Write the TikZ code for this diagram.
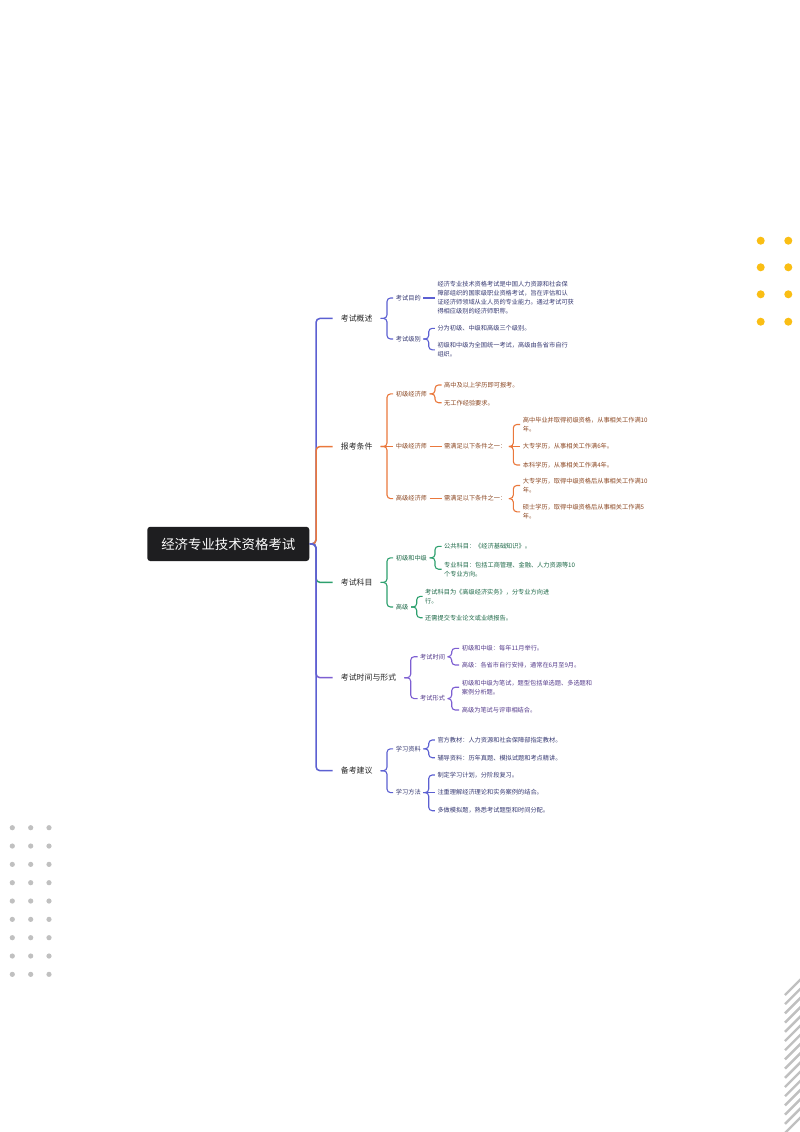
\documentclass[tikz,border=0pt]{standalone}
\usepackage{fontspec}
\newfontfamily\cjk{Noto Sans CJK SC}
\definecolor{cB}{RGB}{92,96,210}
\definecolor{cO}{RGB}{234,120,60}
\definecolor{cG}{RGB}{45,160,110}
\definecolor{cP}{RGB}{125,95,210}
\definecolor{tB}{RGB}{55,58,115}
\definecolor{tO}{RGB}{140,72,35}
\definecolor{tG}{RGB}{30,105,72}
\definecolor{tP}{RGB}{85,60,140}
\definecolor{maintext}{RGB}{40,40,40}
\definecolor{rootc}{RGB}{30,30,32}
\definecolor{dotY}{RGB}{250,190,20}
\definecolor{dotG}{RGB}{192,192,192}
\begin{document}
\begin{tikzpicture}[x=1pt,y=-1pt,
  rootbox/.style={fill=rootc, rounded corners=3pt, minimum width=162pt, minimum height=34.3pt, inner sep=0pt, text=white, font=\cjk\fontsize{13.4}{16}\selectfont},
  mainlbl/.style={anchor=west, inner xsep=8pt, inner ysep=0pt, text=maintext, font=\cjk\fontsize{7.9}{10}\selectfont},
  leaf/.style={anchor=west, inner xsep=2.5pt, inner ysep=0pt, align=left, font=\cjk\fontsize{6.2}{9}\selectfont},
  trunk/.style={line width=1.5pt, rounded corners=4pt},
  brk/.style={line width=1.1pt, rounded corners=3.5pt},
  ydot/.style={fill=dotY, draw=none},
  gdot/.style={fill=dotG, draw=none},
  stripe/.style={draw=dotG, line width=2.4pt}
]
\useasboundingbox (0,0) rectangle (800,1132);
\fill[white] (0,0) rectangle (800,1132);

% decorations
\foreach \yy in {240.7,267.3,294.3,321.7} {
  \fill[ydot] (760.7,\yy) circle (4);
  \fill[ydot] (788.3,\yy) circle (4);
}
\foreach \k in {0,...,8} {
  \foreach \xx in {12.3,30.7,49} {
    \fill[gdot] (\xx,827.7+18.33*\k) circle (2.6);
  }
}
\begin{scope}
\clip (760,960) rectangle (800,1132);
\foreach \k in {0,...,15} {
  \draw[stripe] (785,995+9.2*\k) -- (802,978+9.2*\k);
}
\end{scope}

% root
\node[rootbox] (root) at (228.3,543.9) {经济专业技术资格考试};

% main labels
\node[mainlbl] (b1) at (332.7,318.4) {考试概述};
\node[mainlbl] (b2) at (332.7,446.5) {报考条件};
\node[mainlbl] (b3) at (332.7,582.4) {考试科目};
\node[mainlbl] (b4) at (332.7,677.7) {考试时间与形式};
\node[mainlbl] (b5) at (332.7,770.7) {备考建议};

% branch 1
\node[leaf,text=tB] (b1a) at (393.2,298) {考试目的};
\node[leaf,text=tB] (b1a1) at (434.8,298) {经济专业技术资格考试是中国人力资源和社会保\\障部组织的国家级职业资格考试，旨在评估和认\\证经济师领域从业人员的专业能力。通过考试可获\\得相应级别的经济师职称。};
\node[leaf,text=tB] (b1b) at (393.2,339) {考试级别};
\node[leaf,text=tB] (b1b1) at (434.8,328.3) {分为初级、中级和高级三个级别。};
\node[leaf,text=tB] (b1b2) at (434.8,349.8) {初级和中级为全国统一考试，高级由各省市自行\\组织。};

% branch 2
\node[leaf,text=tO] (b2a) at (393.2,393.9) {初级经济师};
\node[leaf,text=tO] (b2a1) at (441.5,385) {高中及以上学历即可报考。};
\node[leaf,text=tO] (b2a2) at (441.5,402.7) {无工作经验要求。};
\node[leaf,text=tO] (b2b) at (393.2,446.5) {中级经济师};
\node[leaf,text=tO] (b2b0) at (441.5,446.5) {需满足以下条件之一：};
\node[leaf,text=tO] (b2b1) at (520.2,424.5) {高中毕业并取得初级资格，从事相关工作满10\\年。};
\node[leaf,text=tO] (b2b2) at (520.2,446.5) {大专学历，从事相关工作满6年。};
\node[leaf,text=tO] (b2b3) at (520.2,465) {本科学历，从事相关工作满4年。};
\node[leaf,text=tO] (b2c) at (393.2,498.6) {高级经济师};
\node[leaf,text=tO] (b2c0) at (441.5,498.6) {需满足以下条件之一：};
\node[leaf,text=tO] (b2c1) at (520.2,485.5) {大专学历，取得中级资格后从事相关工作满10\\年。};
\node[leaf,text=tO] (b2c2) at (520.2,511.8) {硕士学历，取得中级资格后从事相关工作满5\\年。};

% branch 3
\node[leaf,text=tG] (b3a) at (393.2,557.8) {初级和中级};
\node[leaf,text=tG] (b3a1) at (441.5,546.3) {公共科目：《经济基础知识》。};
\node[leaf,text=tG] (b3a2) at (441.5,569.2) {专业科目：包括工商管理、金融、人力资源等10\\个专业方向。};
\node[leaf,text=tG] (b3b) at (393.2,607) {高级};
\node[leaf,text=tG] (b3b1) at (422.5,596.4) {考试科目为《高级经济实务》，分专业方向进\\行。};
\node[leaf,text=tG] (b3b2) at (422.5,617.7) {还需提交专业论文或业绩报告。};

% branch 4
\node[leaf,text=tP] (b4a) at (417.5,656.7) {考试时间};
\node[leaf,text=tP] (b4a1) at (459.2,648.3) {初级和中级：每年11月举行。};
\node[leaf,text=tP] (b4a2) at (459.2,665) {高级：各省市自行安排，通常在6月至9月。};
\node[leaf,text=tP] (b4b) at (417.5,698.6) {考试形式};
\node[leaf,text=tP] (b4b1) at (459.2,687.2) {初级和中级为笔试，题型包括单选题、多选题和\\案例分析题。};
\node[leaf,text=tP] (b4b2) at (459.2,710) {高级为笔试与评审相结合。};

% branch 5
\node[leaf,text=tB] (b5a) at (393.2,748.8) {学习资料};
\node[leaf,text=tB] (b5a1) at (434.8,740) {官方教材：人力资源和社会保障部指定教材。};
\node[leaf,text=tB] (b5a2) at (434.8,757.7) {辅导资料：历年真题、模拟试题和考点精讲。};
\node[leaf,text=tB] (b5b) at (393.2,792.6) {学习方法};
\node[leaf,text=tB] (b5b1) at (434.8,775) {制定学习计划，分阶段复习。};
\node[leaf,text=tB] (b5b2) at (434.8,792.6) {注重理解经济理论和实务案例的结合。};
\node[leaf,text=tB] (b5b3) at (434.8,810.7) {多做模拟题，熟悉考试题型和时间分配。};

% trunk connectors
\draw[trunk,cB] (root.east) -- (316,543.9) |- (b1.west);
\draw[trunk,cO] (root.east) -- (316,543.9) |- (b2.west);
\draw[trunk,cG] (root.east) -- (316,543.9) |- (b3.west);
\draw[trunk,cP] (root.east) -- (316,543.9) |- (b4.west);
\draw[trunk,cB] (root.east) -- (316,543.9) |- (b5.west);

% branch 1 connectors
\draw[brk,cB] (b1.east) -- (387,318.4) |- (b1a.west);
\draw[brk,cB] (b1.east) -- (387,318.4) |- (b1b.west);
\draw[brk,cB] (b1a.east) -- (b1a1.west);
\draw[brk,cB] (b1b.east) -- (428.7,339) |- (b1b1.west);
\draw[brk,cB] (b1b.east) -- (428.7,339) |- (b1b2.west);

% branch 2 connectors
\draw[brk,cO] (b2.east) -- (387,446.5) |- (b2a.west);
\draw[brk,cO] (b2.east) -- (b2b.west);
\draw[brk,cO] (b2.east) -- (387,446.5) |- (b2c.west);
\draw[brk,cO] (b2a.east) -- (435,393.9) |- (b2a1.west);
\draw[brk,cO] (b2a.east) -- (435,393.9) |- (b2a2.west);
\draw[brk,cO] (b2b.east) -- (b2b0.west);
\draw[brk,cO] (b2c.east) -- (b2c0.west);
\draw[brk,cO] (b2b0.east) -- (513.3,446.5) |- (b2b1.west);
\draw[brk,cO] (b2b0.east) -- (b2b2.west);
\draw[brk,cO] (b2b0.east) -- (513.3,446.5) |- (b2b3.west);
\draw[brk,cO] (b2c0.east) -- (513.3,498.6) |- (b2c1.west);
\draw[brk,cO] (b2c0.east) -- (513.3,498.6) |- (b2c2.west);

% branch 3 connectors
\draw[brk,cG] (b3.east) -- (387,582.4) |- (b3a.west);
\draw[brk,cG] (b3.east) -- (387,582.4) |- (b3b.west);
\draw[brk,cG] (b3a.east) -- (435,557.8) |- (b3a1.west);
\draw[brk,cG] (b3a.east) -- (435,557.8) |- (b3a2.west);
\draw[brk,cG] (b3b.east) -- (416.7,607) |- (b3b1.west);
\draw[brk,cG] (b3b.east) -- (416.7,607) |- (b3b2.west);

% branch 4 connectors
\draw[brk,cP] (b4.east) -- (410.7,677.7) |- (b4a.west);
\draw[brk,cP] (b4.east) -- (410.7,677.7) |- (b4b.west);
\draw[brk,cP] (b4a.east) -- (451.7,656.7) |- (b4a1.west);
\draw[brk,cP] (b4a.east) -- (451.7,656.7) |- (b4a2.west);
\draw[brk,cP] (b4b.east) -- (451.7,698.6) |- (b4b1.west);
\draw[brk,cP] (b4b.east) -- (451.7,698.6) |- (b4b2.west);

% branch 5 connectors
\draw[brk,cB] (b5.east) -- (387,770.7) |- (b5a.west);
\draw[brk,cB] (b5.east) -- (387,770.7) |- (b5b.west);
\draw[brk,cB] (b5a.east) -- (428.7,748.8) |- (b5a1.west);
\draw[brk,cB] (b5a.east) -- (428.7,748.8) |- (b5a2.west);
\draw[brk,cB] (b5b.east) -- (428.7,792.6) |- (b5b1.west);
\draw[brk,cB] (b5b.east) -- (b5b2.west);
\draw[brk,cB] (b5b.east) -- (428.7,792.6) |- (b5b3.west);
\end{tikzpicture}
\end{document}
